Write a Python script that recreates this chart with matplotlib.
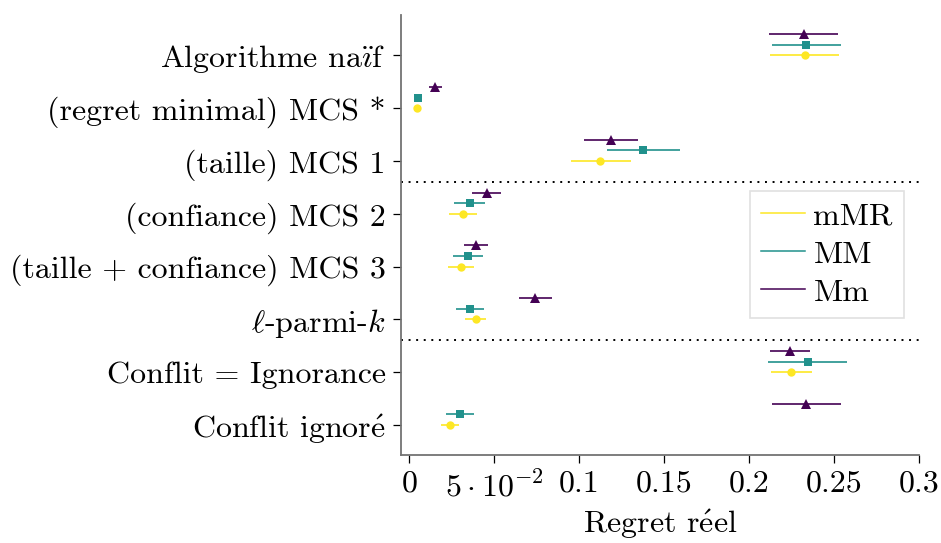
import numpy as np
import matplotlib
matplotlib.use("Agg")
import matplotlib.pyplot as plt
from matplotlib.lines import Line2D

# data (top to bottom)
categories = [r"Algorithme na$\ddot{\imath}$f", "(regret minimal) MCS *", "(taille) MCS 1",
              "(confiance) MCS 2", "(taille + confiance) MCS 3",
              r"$\ell$-parmi-$k$", "Conflit = Ignorance", r"Conflit ignor$\mathrm{\acute{e}}$"]

mMR_mid = [0.2327, 0.0043, 0.1125, 0.0314, 0.0302, 0.0390, 0.2247, 0.0241]
mMR_low = [0.2125, 0.0043, 0.0951, 0.0231, 0.0229, 0.0329, 0.2129, 0.0188]
mMR_high = [0.2530, 0.0043, 0.1304, 0.0396, 0.0378, 0.0453, 0.2369, 0.0294]

MM_mid = [0.2337, 0.0049, 0.1378, 0.0355, 0.0345, 0.0357, 0.2345, 0.0296]
MM_low = [0.2135, 0.0049, 0.1165, 0.0265, 0.0257, 0.0276, 0.2114, 0.0217]
MM_high = [0.2540, 0.0049, 0.1594, 0.0445, 0.0433, 0.0440, 0.2578, 0.0381]

Mm_mid = [0.2322, 0.0153, 0.1186, 0.0455, 0.0394, 0.0741, 0.2243, 0.2337]
Mm_low = [0.2120, 0.0118, 0.1026, 0.0367, 0.0324, 0.0643, 0.2125, 0.2135]
Mm_high = [0.2526, 0.0192, 0.1346, 0.0541, 0.0465, 0.0841, 0.2361, 0.2541]

xticks = [0, 0.05, 0.1, 0.15, 0.2, 0.25, 0.3]
xticklabels = ["0", r"$5\cdot10^{-2}$", "0.1", "0.15", "0.2", "0.25", "0.3"]

plt.rcParams['font.family'] = ['cmr10', 'DejaVu Serif']
plt.rcParams['mathtext.fontset'] = 'cm'
plt.rcParams['axes.unicode_minus'] = False
plt.rcParams['font.size'] = 23

series = [
    ("mMR", mMR_mid, mMR_low, mMR_high, "#fde725", "o", 6, 0.0),
    ("MM", MM_mid, MM_low, MM_high, "#21918c", "s", 5.8, 0.2),
    ("Mm", Mm_mid, Mm_low, Mm_high, "#440154", "^", 6.5, 0.4),
]

fig = plt.figure(figsize=(9.41, 5.43), dpi=100)
ax = fig.add_axes([0.426, 0.162, 0.5506, 0.81])

n = len(categories)
ypos = np.arange(n)[::-1]

handles = []
for name, mid, lo, hi, col, mk, ms, off in series:
    mid = np.array(mid)
    err = [mid - np.array(lo), np.array(hi) - mid]
    ax.errorbar(mid, ypos + off, xerr=err, fmt=mk, color=col, ms=ms,
                elinewidth=1.2, capsize=0, mew=0)
    handles.append(Line2D([], [], color=col, lw=1.1, label=name))

for yl in [4.6, 1.6]:
    ax.axhline(yl, color="black", ls=(0, (1, 2.9)), lw=1.4)

ax.set_xlim(-0.005, 0.3)
ax.set_ylim(-0.57, 7.76)
ax.set_yticks(ypos)
ax.set_yticklabels(categories)
ax.set_xticks(xticks)
ax.set_xticklabels(xticklabels)
ax.set_xlabel(r"Regret r$\mathrm{\acute{e}}$el", labelpad=4)

for s in ["top", "right"]:
    ax.spines[s].set_visible(False)
for s in ["left", "bottom"]:
    ax.spines[s].set_color("0.45")
    ax.spines[s].set_linewidth(1.3)
ax.tick_params(length=6, width=0.9, color="black", pad=5)

leg = ax.legend(handles=handles, loc="upper right", bbox_to_anchor=(0.971, 0.6),
                borderaxespad=0, fancybox=False, handlelength=1.4,
                handletextpad=0.25, labelspacing=0.3, borderpad=0.35)
leg.get_frame().set_edgecolor("0.85")
leg.get_frame().set_linewidth(1.2)

fig.savefig("out.png", dpi=100)
